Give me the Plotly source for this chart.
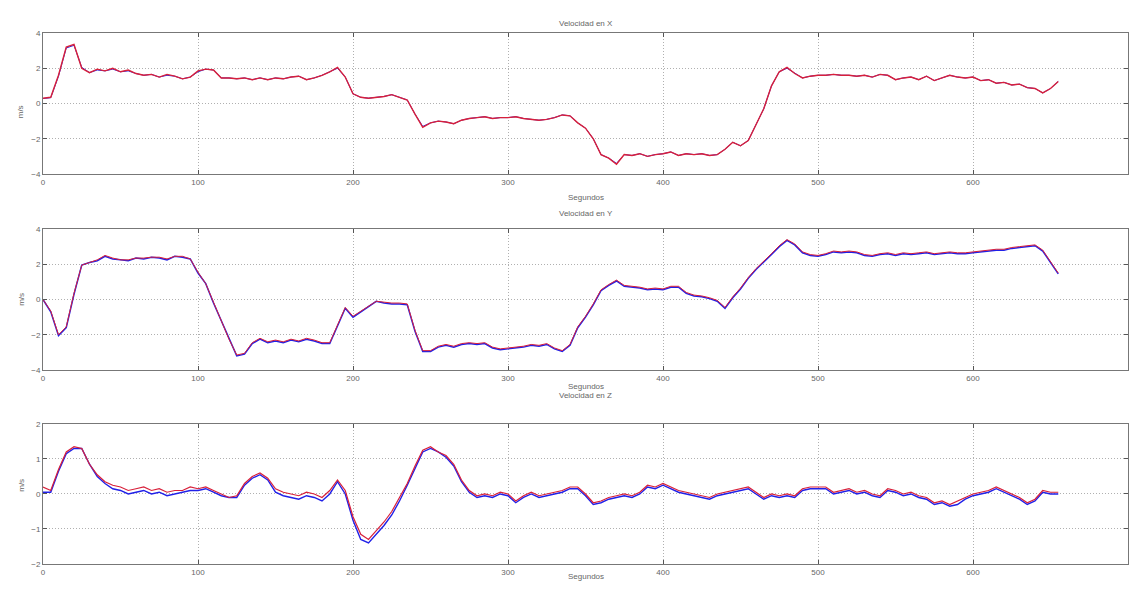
import plotly.graph_objects as go

# time axis (seconds), one sample every 5 s
t = list(range(0, 656, 5))

vx_blue = [0.28, 0.33, 1.55, 3.15, 3.3, 2.05, 1.75, 1.9, 1.85, 1.95, 1.8, 1.85, 1.7, 1.6, 1.65, 1.5, 1.6, 1.55, 1.4, 1.5,
           1.8, 1.95, 1.9, 1.45, 1.45, 1.4, 1.45, 1.35, 1.45, 1.35, 1.45, 1.4, 1.5, 1.55, 1.35, 1.45, 1.6, 1.8, 2.0, 1.5,
           0.55, 0.35, 0.3, 0.35, 0.4, 0.5, 0.35, 0.2, -0.6, -1.3, -1.1, -1.0, -1.05, -1.15, -0.95, -0.85, -0.8, -0.75, -0.85, -0.8,
           -0.8, -0.75, -0.85, -0.9, -0.95, -0.9, -0.8, -0.65, -0.7, -1.1, -1.4, -2.0, -2.9, -3.1, -3.4, -2.9, -2.95, -2.85, -3.0, -2.9,
           -2.85, -2.75, -2.95, -2.85, -2.9, -2.85, -2.95, -2.9, -2.6, -2.2, -2.4, -2.1, -1.2, -0.3, 1.0, 1.8, 2.0, 1.7, 1.45, 1.55,
           1.6, 1.6, 1.65, 1.6, 1.6, 1.55, 1.6, 1.5, 1.65, 1.6, 1.35, 1.45, 1.5, 1.35, 1.55, 1.3, 1.45, 1.6, 1.5, 1.45,
           1.5, 1.3, 1.35, 1.15, 1.2, 1.05, 1.1, 0.9, 0.85, 0.6, 0.85, 1.25]
vx_red = [0.3, 0.35, 1.6, 3.2, 3.35, 2.0, 1.75, 1.95, 1.85, 2.0, 1.8, 1.9, 1.7, 1.6, 1.65, 1.5, 1.65, 1.55, 1.4, 1.5,
          1.85, 1.95, 1.9, 1.45, 1.45, 1.4, 1.45, 1.35, 1.45, 1.35, 1.45, 1.4, 1.5, 1.55, 1.35, 1.45, 1.6, 1.8, 2.05, 1.5,
          0.55, 0.35, 0.3, 0.35, 0.4, 0.5, 0.35, 0.2, -0.6, -1.35, -1.1, -1.0, -1.05, -1.15, -0.95, -0.85, -0.8, -0.75, -0.85, -0.8,
          -0.8, -0.75, -0.85, -0.9, -0.95, -0.9, -0.8, -0.65, -0.7, -1.1, -1.4, -2.0, -2.9, -3.1, -3.45, -2.9, -2.95, -2.85, -3.0, -2.9,
          -2.85, -2.75, -2.95, -2.85, -2.9, -2.85, -2.95, -2.9, -2.6, -2.2, -2.4, -2.1, -1.2, -0.3, 1.0, 1.8, 2.05, 1.7, 1.45, 1.55,
          1.6, 1.6, 1.65, 1.6, 1.6, 1.55, 1.6, 1.5, 1.65, 1.6, 1.35, 1.45, 1.5, 1.35, 1.55, 1.3, 1.45, 1.6, 1.5, 1.45,
          1.5, 1.3, 1.35, 1.15, 1.2, 1.05, 1.1, 0.9, 0.85, 0.6, 0.85, 1.25]

vy_blue = [0.0, -0.7, -2.05, -1.6, 0.3, 1.95, 2.1, 2.2, 2.45, 2.3, 2.25, 2.2, 2.35, 2.3, 2.4, 2.35, 2.25, 2.45, 2.4, 2.3,
           1.5, 0.9, -0.2, -1.2, -2.3, -3.2, -3.1, -2.5, -2.25, -2.45, -2.35, -2.45, -2.3, -2.4, -2.25, -2.35, -2.5, -2.5, -1.5, -0.5,
           -1.0, -0.7, -0.4, -0.1, -0.2, -0.25, -0.25, -0.3, -1.8, -2.95, -2.95, -2.7, -2.6, -2.7, -2.55, -2.5, -2.55, -2.5, -2.75, -2.85,
           -2.8, -2.75, -2.7, -2.6, -2.65, -2.55, -2.8, -2.95, -2.6, -1.6, -1.0, -0.3, 0.5, 0.8, 1.05, 0.75, 0.7, 0.65, 0.55, 0.6,
           0.55, 0.7, 0.7, 0.35, 0.2, 0.15, 0.05, -0.1, -0.5, 0.1, 0.6, 1.2, 1.7, 2.1, 2.55, 3.0, 3.35, 3.1, 2.65, 2.5,
           2.45, 2.55, 2.7, 2.65, 2.7, 2.65, 2.5, 2.45, 2.55, 2.6, 2.5, 2.6, 2.55, 2.6, 2.65, 2.55, 2.6, 2.65, 2.6, 2.6,
           2.65, 2.7, 2.75, 2.8, 2.8, 2.9, 2.95, 3.0, 3.05, 2.75, 2.1, 1.45]
vy_red = [0.0, -0.65, -2.0, -1.55, 0.35, 1.95, 2.1, 2.25, 2.5, 2.35, 2.25, 2.25, 2.35, 2.35, 2.4, 2.4, 2.3, 2.45, 2.45, 2.3,
          1.55, 0.9, -0.15, -1.2, -2.25, -3.15, -3.05, -2.45, -2.2, -2.4, -2.3, -2.4, -2.25, -2.35, -2.2, -2.3, -2.45, -2.45, -1.45, -0.45,
          -0.95, -0.65, -0.35, -0.1, -0.15, -0.2, -0.2, -0.25, -1.75, -2.9, -2.9, -2.65, -2.55, -2.65, -2.5, -2.45, -2.5, -2.45, -2.7, -2.8,
          -2.75, -2.7, -2.65, -2.55, -2.6, -2.5, -2.75, -2.9, -2.55, -1.55, -0.95, -0.25, 0.55, 0.85, 1.1, 0.8, 0.75, 0.7, 0.6, 0.65,
          0.6, 0.75, 0.75, 0.4, 0.25, 0.2, 0.1, -0.05, -0.45, 0.15, 0.65, 1.25, 1.75, 2.15, 2.6, 3.05, 3.4, 3.15, 2.7, 2.55,
          2.5, 2.6, 2.75, 2.7, 2.75, 2.7, 2.55, 2.5, 2.6, 2.65, 2.55, 2.65, 2.6, 2.65, 2.7, 2.6, 2.65, 2.7, 2.65, 2.65,
          2.7, 2.75, 2.8, 2.85, 2.85, 2.95, 3.0, 3.05, 3.1, 2.8, 2.15, 1.5]

vz_blue = [0.05, 0.05, 0.65, 1.15, 1.3, 1.3, 0.85, 0.5, 0.3, 0.15, 0.1, 0.0, 0.05, 0.1, 0.0, 0.05, -0.05, 0.0, 0.05, 0.1,
           0.1, 0.15, 0.05, -0.05, -0.1, -0.1, 0.25, 0.45, 0.55, 0.4, 0.05, -0.05, -0.1, -0.15, -0.05, -0.1, -0.2, 0.0, 0.35, 0.0,
           -0.75, -1.3, -1.4, -1.15, -0.9, -0.6, -0.2, 0.25, 0.75, 1.2, 1.3, 1.2, 1.05, 0.8, 0.35, 0.05, -0.1, -0.05, -0.1, 0.0,
           -0.05, -0.25, -0.1, 0.0, -0.1, -0.05, 0.0, 0.05, 0.15, 0.15, -0.05, -0.3, -0.25, -0.15, -0.1, -0.05, -0.1, 0.0, 0.2, 0.15,
           0.25, 0.15, 0.05, 0.0, -0.05, -0.1, -0.15, -0.05, 0.0, 0.05, 0.1, 0.15, 0.0, -0.15, -0.05, -0.1, -0.05, -0.1, 0.1, 0.15,
           0.15, 0.15, 0.0, 0.05, 0.1, 0.0, 0.05, -0.05, -0.1, 0.1, 0.05, -0.05, 0.0, -0.1, -0.15, -0.3, -0.25, -0.35, -0.3, -0.15,
           -0.05, 0.0, 0.05, 0.15, 0.05, -0.05, -0.15, -0.3, -0.2, 0.05, 0.0, 0.0]
vz_red = [0.2, 0.1, 0.7, 1.2, 1.35, 1.3, 0.85, 0.55, 0.35, 0.25, 0.2, 0.1, 0.15, 0.2, 0.1, 0.15, 0.05, 0.1, 0.1, 0.2,
          0.15, 0.2, 0.1, 0.0, -0.1, -0.05, 0.3, 0.5, 0.6, 0.45, 0.15, 0.05, 0.0, -0.05, 0.05, 0.0, -0.1, 0.1, 0.4, 0.1,
          -0.65, -1.15, -1.3, -1.05, -0.8, -0.5, -0.1, 0.3, 0.8, 1.25, 1.35, 1.2, 1.1, 0.85, 0.4, 0.1, -0.05, 0.0, -0.05, 0.05,
          0.0, -0.2, -0.05, 0.05, -0.05, 0.0, 0.05, 0.1, 0.2, 0.2, 0.0, -0.25, -0.2, -0.1, -0.05, 0.0, -0.05, 0.05, 0.25, 0.2,
          0.3, 0.2, 0.1, 0.05, 0.0, -0.05, -0.1, 0.0, 0.05, 0.1, 0.15, 0.2, 0.05, -0.1, 0.0, -0.05, 0.0, -0.05, 0.15, 0.2,
          0.2, 0.2, 0.05, 0.1, 0.15, 0.05, 0.1, 0.0, -0.05, 0.15, 0.1, 0.0, 0.05, -0.05, -0.1, -0.25, -0.2, -0.3, -0.2, -0.1,
          0.0, 0.05, 0.1, 0.2, 0.1, 0.0, -0.1, -0.25, -0.15, 0.1, 0.05, 0.05]

titles = ["Velocidad en X", "Velocidad en Y", "Velocidad en Z"]
x_ticks = [0, 100, 200, 300, 400, 500, 600, 700]
y_ranges = [[-4, 4], [-4, 4], [-2, 2]]
y_ticks = [[-4, -2, 0, 2, 4], [-4, -2, 0, 2, 4], [-2, -1, 0, 1, 2]]
x_label = "Segundos"
y_label = "m/s"

BLUE = "#2020e8"
RED = "#d8203a"
TXT = "#666666"
FONT = "Liberation Sans"

# line widths per panel (blue, red): X looks red, Y looks dark purple, Z shows both
widths = [(1.0, 1.4), (1.5, 1.0), (1.4, 1.2)]

fig = go.Figure()
series = [(vx_blue, vx_red), (vy_blue, vy_red), (vz_blue, vz_red)]
for i, (b, r) in enumerate(series):
    ax = "" if i == 0 else str(i + 1)
    fig.add_trace(go.Scatter(x=t, y=b, mode="lines", line=dict(color=BLUE, width=widths[i][0]),
                             xaxis="x" + ax, yaxis="y" + ax, showlegend=False))
    fig.add_trace(go.Scatter(x=t, y=r, mode="lines", line=dict(color=RED, width=widths[i][1]),
                             xaxis="x" + ax, yaxis="y" + ax, showlegend=False))

domains = [[0.7345, 1.0], [0.3653, 0.6309], [0.0, 0.2637]]
axis_common = dict(showline=True, linecolor="#777777", linewidth=1, mirror="ticks",
                   ticks="inside", ticklen=4, tickcolor="#555555",
                   showgrid=True, gridcolor="#b0b0b0", griddash="1px,2px", gridwidth=1,
                   zeroline=False, tickfont=dict(size=8, color=TXT, family=FONT))
layout = {}
for i in range(3):
    ax = "" if i == 0 else str(i + 1)
    layout["xaxis" + ax] = dict(axis_common, range=[0, 700], tickvals=x_ticks,
                                anchor="y" + ax, domain=[0, 1])
    layout["yaxis" + ax] = dict(axis_common, range=y_ranges[i], tickvals=y_ticks[i],
                                anchor="x" + ax, domain=domains[i])

title_y = [1.030, 0.672, 0.305]
xlab_y = [0.702, 0.335, -0.036]
annotations = []
for i in range(3):
    annotations.append(dict(text=titles[i], x=0.5, y=title_y[i], xref="paper", yref="paper",
                            showarrow=False, font=dict(size=8, color=TXT, family=FONT)))
    annotations.append(dict(text=x_label, x=0.5, y=xlab_y[i], xref="paper", yref="paper",
                            showarrow=False, font=dict(size=8, color=TXT, family=FONT)))
    ymid = sum(domains[i]) / 2
    annotations.append(dict(text=y_label, x=-0.026, y=ymid, xref="paper", yref="paper",
                            textangle=-90, showarrow=False,
                            font=dict(size=8, color=TXT, family=FONT)))

# page body has an 8px margin; the figure is sized so the page does not overflow
# and the plot areas land at the same page pixels as the reference
fig.update_layout(width=1126, height=580, margin=dict(l=35, r=6, t=25, b=24),
                  paper_bgcolor="white", plot_bgcolor="white", annotations=annotations, **layout)

fig.write_html("out.html")
